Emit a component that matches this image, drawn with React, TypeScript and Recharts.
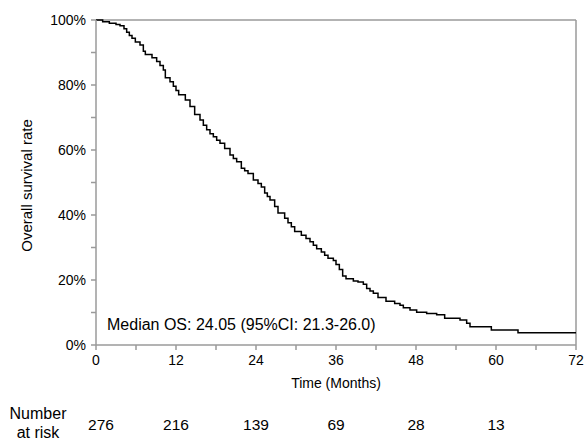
import { LineChart, Line, XAxis, YAxis, ReferenceLine } from "recharts"

// Kaplan-Meier steps
const months = [
  0, 1, 2, 3, 3.6, 4.2, 4.6, 5.0, 5.4, 5.9, 6.6, 7.1, 7.4, 8.4, 9.1, 9.6, 10.1, 10.4, 11.1, 11.6,
  12.0, 12.4, 13.4, 14.1, 14.8, 15.6, 16.1, 16.6, 17.1, 17.6, 18.1, 18.6, 19.3, 20.1, 20.6, 21.1,
  21.8, 22.3, 22.8, 23.6, 24.3, 24.8, 25.3, 25.7, 26.1, 26.8, 27.3, 28.3, 28.8, 29.3, 29.8, 30.8,
  31.5, 32.1, 32.6, 33.1, 33.8, 34.3, 34.8, 35.6, 36.0, 36.5, 37.0, 37.5, 38.6, 39.3, 40.1, 40.6,
  41.1, 41.6, 42.3, 43.5, 44.8, 45.6, 46.1, 47.1, 48.1, 49.6, 51.1, 52.3, 54.6, 55.6, 56.1, 59.3,
  63.3, 72,
]
const survival = [
  100, 99.5, 99.0, 98.6, 98.2, 97.3, 96.2, 95.2, 94.4, 93.2, 92.3, 90.4, 89.4, 88.4, 87.2, 86.0, 84.6, 82.2, 81.0, 79.6,
  78.3, 77.0, 75.4, 73.4, 70.9, 69.2, 67.6, 66.2, 65.0, 64.1, 63.0, 62.1, 60.5, 58.5, 57.4, 56.4,
  54.4, 53.6, 52.8, 50.8, 49.7, 48.6, 46.8, 45.7, 44.6, 42.6, 40.6, 39.0, 37.6, 36.4, 34.9, 33.8,
  32.8, 31.8, 30.7, 29.6, 28.6, 27.6, 26.7, 26.0, 24.8, 23.2, 21.2, 20.4, 19.7, 19.4, 18.7, 17.4,
  16.6, 15.9, 14.6, 13.5, 12.8, 12.2, 11.5, 10.8, 10.1, 9.7, 9.3, 8.2, 7.7, 6.7, 5.6, 4.6,
  3.8, 3.8,
]

const xTicks = [0, 6, 12, 18, 24, 30, 36, 42, 48, 54, 60, 66, 72]
const yTicks = [0, 10, 20, 30, 40, 50, 60, 70, 80, 90, 100]

const riskTimes = [0, 12, 24, 36, 48, 60]
const riskCounts = [276, 216, 139, 69, 28, 13]

const data = months.map((m, i) => ({ month: m, os: survival[i] }))

const FONT = "'Liberation Sans', Arial, Helvetica, sans-serif"
const AXIS = "#9a9a9a"

const XTick = (props: any) => {
  const { x, y, payload } = props
  const v = payload.value
  if (v % 12 !== 0) return null
  const idx = riskTimes.indexOf(v)
  return (
    <g fontFamily={FONT}>
      <text x={x} y={y} dy="0.71em" textAnchor="middle" fontSize={14} fill="#000">
        {v}
      </text>
      {idx >= 0 && (
        <text x={x + (v === 0 ? 5 : 0)} y={y + 70} dy="0.35em" textAnchor="middle" fontSize={15.5} fill="#000">
          {riskCounts[idx]}
        </text>
      )}
      {v === 0 && (
        <text x={x - 58} y={y + 58} dy="0.35em" textAnchor="middle" fontSize={16} fill="#000">
          Number
        </text>
      )}
      {v === 0 && (
        <text x={x - 58} y={y + 77} dy="0.35em" textAnchor="middle" fontSize={16} fill="#000">
          at risk
        </text>
      )}
    </g>
  )
}

const YTick = (props: any) => {
  const { x, y, payload } = props
  const v = payload.value
  if (v % 20 !== 0) return null
  return (
    <text x={x} y={y} dy="0.35em" textAnchor="end" fontSize={14} fill="#000" fontFamily={FONT}>
      {v}%
    </text>
  )
}

export default function App() {
  return (
    <div style={{ position: "absolute", left: 0, top: 0, width: 586, height: 441, fontFamily: FONT }}>
      <LineChart width={586} height={441} data={data} margin={{ top: 20, right: 10, left: 0, bottom: 0 }}>
        <XAxis
          dataKey="month"
          type="number"
          domain={[0, 72]}
          ticks={xTicks}
          tick={<XTick />}
          tickSize={5}
          tickMargin={5}
          height={96}
          stroke={AXIS}
          strokeWidth={1.5}
          interval={0}
          label={(p: any) => {
            const vb = p.viewBox
            return (
              <text x={vb.x + vb.width / 2} y={vb.y + 38} dy="0.35em" textAnchor="middle" fontSize={14} fill="#000" fontFamily={FONT}>
                Time (Months)
              </text>
            )
          }}
        />
        <YAxis
          type="number"
          domain={[0, 100]}
          ticks={yTicks}
          tick={<YTick />}
          tickSize={5}
          tickMargin={5}
          width={96}
          stroke={AXIS}
          strokeWidth={1.5}
          interval={0}
          label={(p: any) => {
            const vb = p.viewBox
            const cx = 27
            const cy = vb.y + vb.height / 2 + 3
            return (
              <text x={cx} y={cy} dy="0.35em" textAnchor="middle" fontSize={15} fill="#000" fontFamily={FONT} transform={`rotate(-90 ${cx} ${cy})`}>
                Overall survival rate
              </text>
            )
          }}
        />
        <ReferenceLine y={100} stroke={AXIS} strokeWidth={1.5} />
        <ReferenceLine x={72} stroke={AXIS} strokeWidth={1.5} />
        <Line type="stepAfter" dataKey="os" stroke="#000" strokeWidth={1.5} dot={false} isAnimationActive={false} />
      </LineChart>
      <div style={{ position: "absolute", left: 107, top: 316, fontSize: 16, color: "#000", whiteSpace: "nowrap" }}>
        Median OS: 24.05 (95%CI: 21.3-26.0)
      </div>
    </div>
  )
}
